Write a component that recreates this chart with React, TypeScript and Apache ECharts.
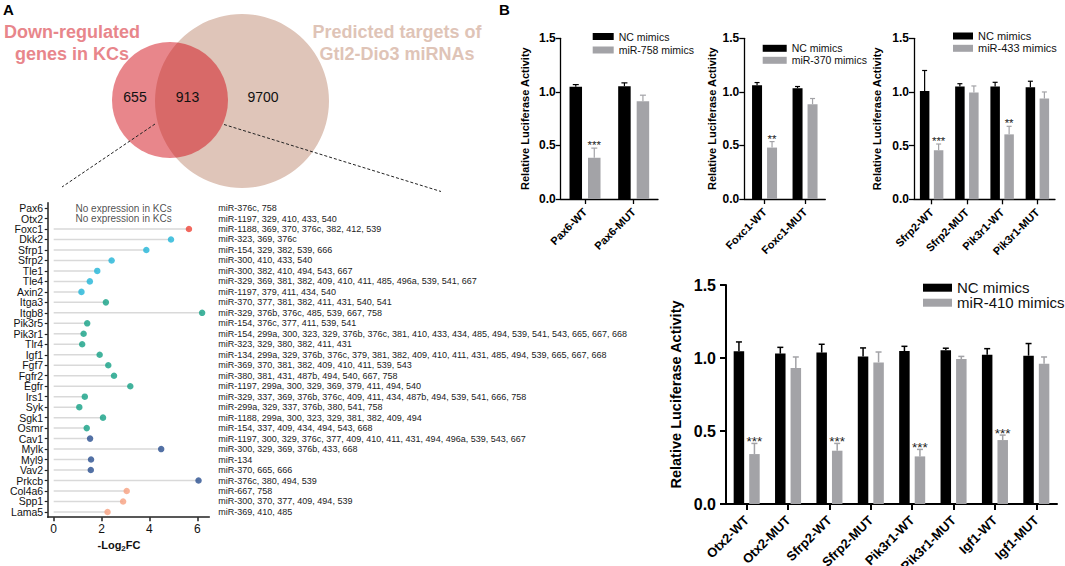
import React, { useEffect, useRef } from 'react';
import * as echarts from 'echarts';

const FONT = 'Arial, "Liberation Sans", Helvetica, sans-serif';

// ---------- Panel A: Venn ----------
const VENN_COUNTS = [655, 913, 9700]; // left only, overlap, right only
const VENN_LEFT_TITLE = ['Down-regulated', 'genes in KCs'];
const VENN_RIGHT_TITLE = ['Predicted targets of', 'Gtl2-Dio3 miRNAs'];

// ---------- Panel A: lollipop ----------
const GENES = ['Pax6', 'Otx2', 'Foxc1', 'Dkk2', 'Sfrp1', 'Sfrp2', 'Tle1', 'Tle4', 'Axin2', 'Itga3', 'Itgb8', 'Pik3r5', 'Pik3r1', 'Tlr4', 'Igf1', 'Fgf7', 'Fgfr2', 'Egfr', 'Irs1', 'Syk', 'Sgk1', 'Osmr', 'Cav1', 'Mylk', 'Myl9', 'Vav2', 'Prkcb', 'Col4a6', 'Spp1', 'Lama5'];
const NEG_LOG2FC: (number | null)[] = [null, null, 5.65, 4.9, 3.87, 2.42, 1.82, 1.51, 1.16, 2.18, 6.2, 1.4, 1.25, 1.19, 1.92, 2.28, 2.52, 3.2, 1.3, 1.07, 2.06, 1.38, 1.52, 4.49, 1.56, 1.55, 6.05, 3.05, 2.9, 2.25];
const GENE_GROUP = [-1, -1, 0, 1, 1, 1, 1, 1, 1, 2, 2, 2, 2, 2, 2, 2, 2, 2, 2, 2, 2, 2, 3, 3, 3, 3, 3, 4, 4, 4];
const GROUP_COLORS = ['#ef4337', '#1fb4d7', '#13a084', '#284d8e', '#f7a07f'];
const NO_EXPRESSION = 'No expression in KCs';
const NO_EXPRESSION_X = 2.92;
const LOG_TICKS = [0, 2, 4, 6];
const MIRNAS = [
  'miR-376c, 758',
  'miR-1197, 329, 410, 433, 540',
  'miR-1188, 369, 370, 376c, 382, 412, 539',
  'miR-323, 369, 376c',
  'miR-154, 329, 382, 539, 666',
  'miR-300, 410, 433, 540',
  'miR-300, 382, 410, 494, 543, 667',
  'miR-329, 369, 381, 382, 409, 410, 411, 485, 496a, 539, 541, 667',
  'miR-1197, 379, 411, 434, 540',
  'miR-370, 377, 381, 382, 411, 431, 540, 541',
  'miR-329, 376b, 376c, 485, 539, 667, 758',
  'miR-154, 376c, 377, 411, 539, 541',
  'miR-154, 299a, 300, 323, 329, 376b, 376c, 381, 410, 433, 434, 485, 494, 539, 541, 543, 665, 667, 668',
  'miR-323, 329, 380, 382, 411, 431',
  'miR-134, 299a, 329, 376b, 376c, 379, 381, 382, 409, 410, 411, 431, 485, 494, 539, 665, 667, 668',
  'miR-369, 370, 381, 382, 409, 410, 411, 539, 543',
  'miR-380, 381, 431, 487b, 494, 540, 667, 758',
  'miR-1197, 299a, 300, 329, 369, 379, 411, 494, 540',
  'miR-329, 337, 369, 376b, 376c, 409, 411, 434, 487b, 494, 539, 541, 666, 758',
  'miR-299a, 329, 337, 376b, 380, 541, 758',
  'miR-1188, 299a, 300, 323, 329, 381, 382, 409, 494',
  'miR-154, 337, 409, 434, 494, 543, 668',
  'miR-1197, 300, 329, 376c, 377, 409, 410, 411, 431, 494, 496a, 539, 543, 667',
  'miR-300, 329, 369, 376b, 433, 668',
  'miR-134',
  'miR-370, 665, 666',
  'miR-376c, 380, 494, 539',
  'miR-667, 758',
  'miR-300, 370, 377, 409, 494, 539',
  'miR-369, 410, 485',
];

// ---------- Panel B: luciferase ----------
const NC_NAME = 'NC mimics';
const LUC_AXIS_NAME = 'Relative Luciferase Activity';

const P1_CATS = ['Pax6-WT', 'Pax6-MUT'];
const P1_MIR_NAME = 'miR-758 mimics';
const P1_NC = [1.047, 1.053];
const P1_NC_SD = [0.021, 0.031];
const P1_MIR = [0.385, 0.913];
const P1_MIR_SD = [0.09, 0.056];
const P1_STARS = ['***', ''];

const P2_CATS = ['Foxc1-WT', 'Foxc1-MUT'];
const P2_MIR_NAME = 'miR-370 mimics';
const P2_NC = [1.062, 1.034];
const P2_NC_SD = [0.025, 0.016];
const P2_MIR = [0.48, 0.885];
const P2_MIR_SD = [0.056, 0.053];
const P2_STARS = ['**', ''];

const P3_CATS = ['Sfrp2-WT', 'Sfrp2-MUT', 'Pik3r1-WT', 'Pik3r1-MUT'];
const P3_MIR_NAME = 'miR-433 mimics';
const P3_NC = [1.01, 1.052, 1.052, 1.043];
const P3_NC_SD = [0.19, 0.025, 0.038, 0.057];
const P3_MIR = [0.457, 0.994, 0.605, 0.938];
const P3_MIR_SD = [0.058, 0.062, 0.075, 0.062];
const P3_STARS = ['***', '', '**', ''];

const P4_CATS = ['Otx2-WT', 'Otx2-MUT', 'Sfrp2-WT', 'Sfrp2-MUT', 'Pik3r1-WT', 'Pik3r1-MUT', 'Igf1-WT', 'Igf1-MUT'];
const P4_MIR_NAME = 'miR-410 mimics';
const P4_NC = [1.046, 1.03, 1.037, 1.011, 1.048, 1.053, 1.023, 1.016];
const P4_NC_SD = [0.064, 0.043, 0.057, 0.058, 0.032, 0.014, 0.041, 0.083];
const P4_MIR = [0.342, 0.931, 0.365, 0.97, 0.326, 0.993, 0.438, 0.961];
const P4_MIR_SD = [0.073, 0.076, 0.05, 0.071, 0.048, 0.018, 0.034, 0.046];
const P4_STARS = ['***', '', '***', '', '***', '', '***', ''];

const NC_COLOR = '#000000';
const MIR_COLOR = '#a3a3a7';

function errSeries(axisIdx: number, yIdx: number, vals: number[], sds: number[], stars: string[] | null,
  side: number, barW: number, gap: number, color: string, lw: number, capW: number, starSize: number, starOff: number) {
  return {
    type: 'custom',
    xAxisIndex: axisIdx,
    yAxisIndex: yIdx,
    silent: true,
    z: 5,
    data: vals.map((v, i) => [i, v, v + sds[i]]),
    encode: { x: 0, y: [1, 2] },
    renderItem: (params: any, api: any) => {
      const i = api.value(0);
      const base = api.coord([i, api.value(1)]);
      const top = api.coord([i, api.value(2)]);
      const x = base[0] + side * (barW + gap) / 2;
      const children: any[] = [
        { type: 'line', shape: { x1: x, y1: base[1], x2: x, y2: top[1] }, style: { stroke: color, lineWidth: lw } },
        { type: 'line', shape: { x1: x - capW / 2, y1: top[1], x2: x + capW / 2, y2: top[1] }, style: { stroke: color, lineWidth: lw } },
      ];
      const s = stars ? stars[params.dataIndex] : '';
      if (s) {
        children.push({
          type: 'text',
          style: { text: s, x, y: top[1] - starOff, align: 'center', verticalAlign: 'middle', fontSize: starSize, fontFamily: FONT, fill: '#222' },
        });
      }
      return { type: 'group', children };
    },
  };
}

type PanelCfg = {
  grid: number; yIdx: number; cats: string[]; nc: number[]; ncSd: number[]; mir: number[]; mirSd: number[];
  stars: string[]; mirName: string; barW: number; gap: number; lw: number; capW: number; starSize: number; starOff: number;
  tickFont: number; labelFont: number; nameFont: number; nameGap: number; tickLen: number; labelMargin: number;
  axisW: number; xLabelMargin: number;
};

function panel(c: PanelCfg) {
  const xAxis = {
    type: 'category', gridIndex: c.grid, data: c.cats,
    axisLine: { show: true, lineStyle: { color: '#000', width: c.axisW } },
    axisTick: { show: true, alignWithLabel: true, length: c.tickLen, lineStyle: { color: '#000', width: c.axisW } },
    axisLabel: { interval: 0, rotate: 45, fontSize: c.labelFont, fontWeight: 'bold', color: '#000', fontFamily: FONT, margin: c.xLabelMargin, hideOverlap: false },
    splitLine: { show: false },
  };
  const yAxis = {
    type: 'value', gridIndex: c.grid, min: 0, max: 1.5, interval: 0.5,
    axisLine: { show: true, lineStyle: { color: '#000', width: c.axisW } },
    axisTick: { show: true, length: c.tickLen, lineStyle: { color: '#000', width: c.axisW } },
    axisLabel: { formatter: (v: number) => v.toFixed(1), fontSize: c.tickFont, fontWeight: 'bold', color: '#000', fontFamily: FONT, margin: c.labelMargin },
    splitLine: { show: false },
    name: LUC_AXIS_NAME, nameLocation: 'middle', nameGap: c.nameGap, nameMoveOverlap: false,
    nameTextStyle: { fontSize: c.nameFont, fontWeight: 'bold', color: '#000', fontFamily: FONT },
  };
  const gapPct = Math.round((c.gap / c.barW) * 100) + '%';
  const series = [
    { type: 'bar', name: NC_NAME, xAxisIndex: c.grid, yAxisIndex: c.yIdx, data: c.nc, barWidth: c.barW, barGap: gapPct, itemStyle: { color: NC_COLOR }, silent: true },
    { type: 'bar', name: c.mirName, xAxisIndex: c.grid, yAxisIndex: c.yIdx, data: c.mir, barWidth: c.barW, barGap: gapPct, itemStyle: { color: MIR_COLOR }, silent: true },
    errSeries(c.grid, c.yIdx, c.nc, c.ncSd, null, -1, c.barW, c.gap, NC_COLOR, c.lw, c.capW, c.starSize, c.starOff),
    errSeries(c.grid, c.yIdx, c.mir, c.mirSd, c.stars, 1, c.barW, c.gap, MIR_COLOR, c.lw, c.capW, c.starSize, c.starOff),
  ];
  return { xAxis, yAxis, series };
}

function buildOption() {
  const topCommon = { lw: 1.2, starSize: 11.5, starOff: 3, tickFont: 12, labelFont: 11, nameFont: 11, tickLen: 5, labelMargin: 5, axisW: 1.3, xLabelMargin: 11 };
  const p1 = panel({ ...topCommon, grid: 1, yIdx: 2, cats: P1_CATS, nc: P1_NC, ncSd: P1_NC_SD, mir: P1_MIR, mirSd: P1_MIR_SD, stars: P1_STARS, mirName: P1_MIR_NAME, barW: 12.5, gap: 6, capW: 6, nameGap: 30 });
  const p2 = panel({ ...topCommon, grid: 2, yIdx: 3, cats: P2_CATS, nc: P2_NC, ncSd: P2_NC_SD, mir: P2_MIR, mirSd: P2_MIR_SD, stars: P2_STARS, mirName: P2_MIR_NAME, barW: 10, gap: 5, capW: 5, nameGap: 27 });
  const p3 = panel({ ...topCommon, grid: 3, yIdx: 4, cats: P3_CATS, nc: P3_NC, ncSd: P3_NC_SD, mir: P3_MIR, mirSd: P3_MIR_SD, stars: P3_STARS, mirName: P3_MIR_NAME, barW: 9.5, gap: 4.5, capW: 5, nameGap: 32 });
  const p4 = panel({ grid: 4, yIdx: 5, cats: P4_CATS, nc: P4_NC, ncSd: P4_NC_SD, mir: P4_MIR, mirSd: P4_MIR_SD, stars: P4_STARS, mirName: P4_MIR_NAME, barW: 10.5, gap: 5, capW: 6, lw: 1.5, starSize: 13.5, starOff: 2, tickFont: 16, labelFont: 13, nameFont: 14.5, nameGap: 43, tickLen: 6, labelMargin: 10, axisW: 2, xLabelMargin: 14 });

  const legendBase = { orient: 'vertical', icon: 'rect', itemHeight: 7, padding: 0, selectedMode: false };
  const legendText = (fs: number, lh: number) => ({ fontSize: fs, color: '#111', fontFamily: FONT, lineHeight: lh });

  const lollipopDots = GENES.map((g, i) => {
    const v = NEG_LOG2FC[i];
    if (v == null) return null;
    return { value: [v, g], itemStyle: { color: GROUP_COLORS[GENE_GROUP[i]] } };
  }).filter(Boolean);
  const noExpr = GENES.filter((g, i) => NEG_LOG2FC[i] == null).map((g) => [NO_EXPRESSION_X, g]);

  const vennText = (text: string, x: number, y: number, color: string, size: number, bold: boolean) => ({
    type: 'text', x, y, silent: true,
    style: { text, fill: color, fontSize: size, fontWeight: bold ? 'bold' : 'normal', fontFamily: FONT, align: 'center', verticalAlign: 'middle' },
  });

  const graphic: any[] = [
    { type: 'text', x: 3, y: 2, style: { text: 'A', fontSize: 15, fontWeight: 'bold', fontFamily: FONT, fill: '#000', verticalAlign: 'top' } },
    { type: 'text', x: 499, y: 2, style: { text: 'B', fontSize: 15, fontWeight: 'bold', fontFamily: FONT, fill: '#000', verticalAlign: 'top' } },
    { type: 'circle', shape: { cx: 242, cy: 101, r: 87 }, style: { fill: '#dfc5b9' } },
    { type: 'circle', shape: { cx: 170, cy: 100, r: 58 }, style: { fill: 'rgba(209,13,23,0.5)' } },
    vennText(VENN_LEFT_TITLE[0], 72, 31.5, '#e8868b', 18, true),
    vennText(VENN_LEFT_TITLE[1], 72, 53.5, '#e8868b', 18, true),
    vennText(VENN_RIGHT_TITLE[0], 397, 31.5, '#dfc4b7', 18, true),
    vennText(VENN_RIGHT_TITLE[1], 397, 53.5, '#dfc4b7', 18, true),
    vennText(String(VENN_COUNTS[0]), 135, 97, '#111', 14, false),
    vennText(String(VENN_COUNTS[1]), 187.5, 97, '#111', 14, false),
    vennText(String(VENN_COUNTS[2]), 263, 97, '#111', 14, false),
    { type: 'line', shape: { x1: 155, y1: 124, x2: 62, y2: 187 }, style: { stroke: '#222', lineWidth: 1, lineDash: [3, 2] } },
    { type: 'line', shape: { x1: 224, y1: 124.5, x2: 441, y2: 191.5 }, style: { stroke: '#222', lineWidth: 1, lineDash: [3, 2] } },
    {
      type: 'text', x: 119, y: 545,
      style: {
        text: '{a|-Log}{b|2}{a|FC}', align: 'center', verticalAlign: 'middle',
        rich: {
          a: { fontSize: 11, fontWeight: 'bold', fontFamily: FONT, fill: '#111', lineHeight: 14 },
          b: { fontSize: 8, fontWeight: 'bold', fontFamily: FONT, fill: '#111', lineHeight: 8, verticalAlign: 'bottom' },
        },
      },
    },
  ];

  return {
    animation: false,
    backgroundColor: '#ffffff',
    textStyle: { fontFamily: FONT },
    grid: [
      { left: 47.7, top: 202.8, width: 161.6, height: 314.4, outerBoundsMode: 'none' },
      { left: 560.7, top: 38.3, width: 97.3, height: 160.7, outerBoundsMode: 'none' },
      { left: 744.3, top: 38.3, width: 81, height: 160.7, outerBoundsMode: 'none' },
      { left: 914, top: 38.3, width: 141, height: 161, outerBoundsMode: 'none' },
      { left: 726, top: 285, width: 331, height: 219, outerBoundsMode: 'none' },
    ],
    legend: [
      { ...legendBase, left: 592.7, top: 30.5, itemWidth: 21, itemGap: 1.5, data: [NC_NAME, P1_MIR_NAME], textStyle: legendText(10.5, 12) },
      { ...legendBase, left: 762.7, top: 42.3, itemWidth: 24, itemGap: 0, data: [NC_NAME, P2_MIR_NAME], textStyle: legendText(10.5, 12) },
      { ...legendBase, left: 953, top: 30, itemWidth: 20, itemGap: 0.3, data: [NC_NAME, P3_MIR_NAME], textStyle: legendText(11, 12) },
      { ...legendBase, left: 923, top: 280.2, itemWidth: 29, itemHeight: 8, itemGap: 0, data: [NC_NAME, P4_MIR_NAME], textStyle: legendText(15, 14.6) },
    ],
    xAxis: [
      {
        type: 'value', gridIndex: 0, min: -0.25, max: 6.5,
        axisLine: { show: true, onZero: false, lineStyle: { color: '#222', width: 1.5 } },
        axisTick: { show: true, length: 4, customValues: LOG_TICKS, lineStyle: { color: '#222', width: 1.5 } },
        axisLabel: { customValues: LOG_TICKS, fontSize: 12, color: '#111', fontFamily: FONT, margin: 6 },
        splitLine: { show: false },
      },
      p1.xAxis, p2.xAxis, p3.xAxis, p4.xAxis,
    ],
    yAxis: [
      {
        type: 'category', gridIndex: 0, data: GENES, inverse: true,
        axisLine: { show: true, onZero: false, lineStyle: { color: '#222', width: 1.5 } },
        axisTick: { show: true, alignWithLabel: true, length: 3, lineStyle: { color: '#222', width: 1.2 } },
        axisLabel: { interval: 0, fontSize: 10.5, color: '#111', fontFamily: FONT, margin: 4.5 },
        splitLine: { show: false },
      },
      {
        type: 'category', gridIndex: 0, data: MIRNAS, inverse: true, position: 'right',
        axisLine: { show: false, onZero: false },
        axisTick: { show: false },
        axisLabel: { interval: 0, fontSize: 9, color: '#222', fontFamily: FONT, margin: 9, align: 'left' },
        splitLine: { show: false },
      },
      p1.yAxis, p2.yAxis, p3.yAxis, p4.yAxis,
    ],
    series: [
      {
        type: 'bar', xAxisIndex: 0, yAxisIndex: 0, data: NEG_LOG2FC, barWidth: 1.5,
        itemStyle: { color: '#d9d9d9' }, silent: true,
      },
      {
        type: 'scatter', xAxisIndex: 0, yAxisIndex: 0, data: lollipopDots, symbol: 'circle', symbolSize: 6.5, silent: true, z: 3,
      },
      {
        type: 'scatter', xAxisIndex: 0, yAxisIndex: 0, data: noExpr, symbolSize: 0, silent: true,
        label: { show: true, position: 'inside', formatter: NO_EXPRESSION, fontSize: 10, color: '#222', fontFamily: FONT },
      },
      ...p1.series, ...p2.series, ...p3.series, ...p4.series,
    ],
    graphic,
  };
}

export default function App() {
  const ref = useRef<HTMLDivElement>(null);
  useEffect(() => {
    if (!ref.current) return;
    const chart = echarts.init(ref.current, null, { renderer: 'svg' });
    chart.setOption(buildOption() as any);
    return () => chart.dispose();
  }, []);
  return (
    <div
      ref={ref}
      style={{ position: 'fixed', left: 0, top: 0, width: 1065, height: 566, background: '#fff' }}
    />
  );
}
